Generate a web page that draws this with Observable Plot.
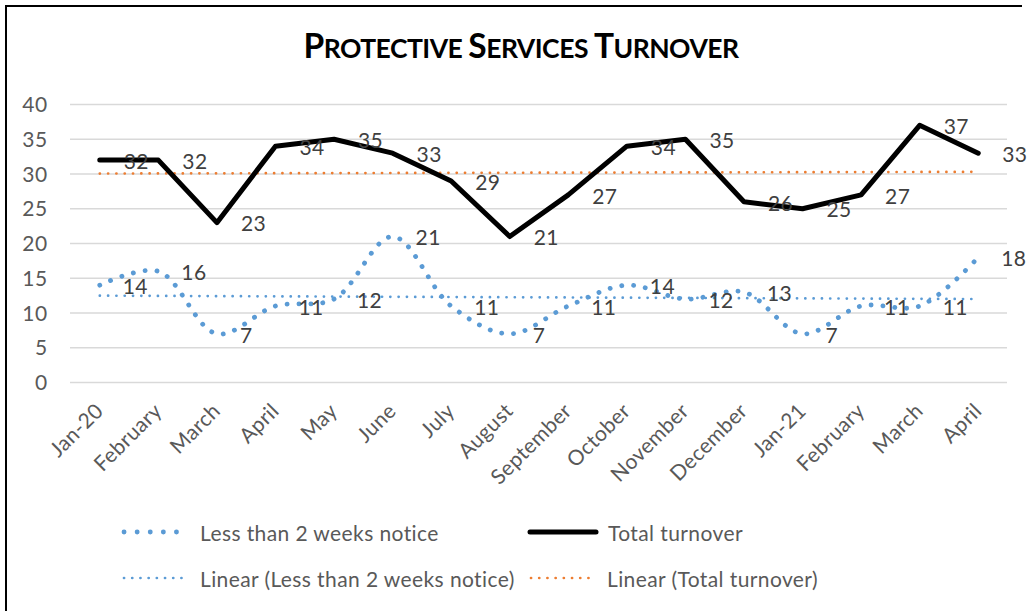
<!DOCTYPE html>
<html>
<head>
<meta charset="utf-8">
<script src="https://cdn.jsdelivr.net/npm/d3@7"></script>
<script src="https://cdn.jsdelivr.net/npm/@observablehq/plot@0.6"></script>
<style>
  html, body { margin: 0; padding: 0; background: #fff; }
  body { width: 1030px; height: 611px; overflow: hidden; position: relative; font-family: Lato, "Open Sans", sans-serif; }
  #frame { position: absolute; left: 5px; top: 5px; width: 1015px; height: 700px; border-left: 2px solid #000; border-top: 2px solid #000; }
  #title { position: absolute; left: 0; top: 25px; width: 1042px; text-align: center; font-weight: 700; color: #000; line-height: 40px; white-space: nowrap; letter-spacing: -0.5px; }
  #title .big { font-size: 33.5px; }
  #title .small { font-size: 26.5px; }
  #chart { position: absolute; left: 0; top: 88px; }
  .legend-row { position: absolute; left: 0; height: 24px; display: flex; align-items: center; font-size: 21px; letter-spacing: 0.4px; color: #595959; white-space: nowrap; }
  .legend-row svg { margin-right: 8px; }
</style>
</head>
<body>
<div id="frame"></div>
<div id="title"></div>
<div id="chart"></div>
<div id="legend"></div>
<script>
// ---- data ----
const titleText = "Protective Services Turnover";
const months = ["Jan-20", "February", "March", "April", "May", "June", "July", "August", "September", "October", "November", "December", "Jan-21", "February", "March", "April"];
const lessNotice = [14, 16, 7, 11, 12, 21, 11, 7, 11, 14, 12, 13, 7, 11, 11, 18];
const totalTurnover = [32, 32, 23, 34, 35, 33, 29, 21, 27, 34, 35, 26, 25, 27, 37, 33];
const yTicks = [0, 5, 10, 15, 20, 25, 30, 35, 40];
const seriesNames = ["Less than 2 weeks notice", "Total turnover", "Linear (Less than 2 weeks notice)", "Linear (Total turnover)"];
const colors = { less: "#5B9BD5", total: "#000000", lessTrend: "#5B9BD5", totalTrend: "#ED7D31" };

// ---- title (small caps rendered manually) ----
const titleEl = document.getElementById("title");
titleEl.innerHTML = titleText.split(" ").map(w =>
  `<span class="big">${w[0].toUpperCase()}</span><span class="small">${w.slice(1).toUpperCase()}</span>`
).join('<span class="small"> </span>');

// ---- chart ----
const idx = d3.range(months.length);
const less = idx.map(i => ({ i, v: lessNotice[i] }));
const total = idx.map(i => ({ i, v: totalTurnover[i] }));

const chart = Plot.plot({
  width: 1030,
  height: 402,
  marginLeft: 70,
  marginRight: 23,
  marginTop: 16,
  marginBottom: 108,
  style: { fontFamily: "Lato, 'Open Sans', sans-serif", fontSize: "21px", letterSpacing: "0.4px", color: "#595959", background: "transparent", overflow: "visible" },
  x: { domain: [-0.5, months.length - 0.5] },
  y: { domain: [0, 40], axis: null },
  marks: [
    Plot.gridY(yTicks, { stroke: "#d9d9d9", strokeOpacity: 1, strokeWidth: 1.5 }),
    Plot.text(yTicks, { y: d => d, text: d => String(d), frameAnchor: "left", textAnchor: "end", dx: -23, dy: 1, fill: "#595959", fontSize: 21 }),
    Plot.axisX(idx, { tickSize: 0, tickPadding: 25, tickRotate: -45, tickFormat: i => months[i], fill: "#595959", fontSize: 21, label: null }),
    Plot.linearRegressionY(less, { x: "i", y: "v", ci: 0, stroke: colors.lessTrend, strokeWidth: 2.7, strokeDasharray: "0.1 8.2", strokeLinecap: "round" }),
    Plot.linearRegressionY(total, { x: "i", y: "v", ci: 0, stroke: colors.totalTrend, strokeWidth: 2.7, strokeDasharray: "0.1 8.2", strokeLinecap: "round" }),
    Plot.line(less, { x: "i", y: "v", curve: "catmull-rom", stroke: colors.less, strokeWidth: 4.8, strokeDasharray: "0.1 11.8", strokeLinecap: "round" }),
    Plot.line(total, { x: "i", y: "v", stroke: colors.total, strokeWidth: 5, strokeLinejoin: "round", strokeLinecap: "round" }),
    Plot.text(total, { x: "i", y: "v", text: d => String(d.v), dx: 24, dy: 2, textAnchor: "start", fill: "#404040", fontSize: 21 }),
    Plot.text(less, { x: "i", y: "v", text: d => String(d.v), dx: 23, dy: 2, textAnchor: "start", fill: "#404040", fontSize: 21 })
  ]
});
document.getElementById("chart").appendChild(chart);

// ---- legend ----
const legend = document.getElementById("legend");
const swatch = (kind) => {
  if (kind === "less") return `<svg width="72" height="20"><line x1="4" y1="10" x2="69" y2="10" stroke="${colors.less}" stroke-width="4.8" stroke-dasharray="0.1 13" stroke-linecap="round"/></svg>`;
  if (kind === "total") return `<svg width="74" height="20"><line x1="4" y1="10" x2="70" y2="10" stroke="${colors.total}" stroke-width="5" stroke-linecap="round"/></svg>`;
  const c = kind === "lessTrend" ? colors.lessTrend : colors.totalTrend;
  return `<svg width="72" height="20"><line x1="4" y1="10" x2="69" y2="10" stroke="${c}" stroke-width="2.7" stroke-dasharray="0.1 8.1" stroke-linecap="round"/></svg>`;
};
const items = [
  { kind: "less", label: seriesNames[0], left: 120, top: 520 },
  { kind: "total", label: seriesNames[1], left: 526, top: 520 },
  { kind: "lessTrend", label: seriesNames[2], left: 120, top: 566 },
  { kind: "totalTrend", label: seriesNames[3], left: 527, top: 566 }
];
legend.innerHTML = items.map(it =>
  `<div class="legend-row" style="left:${it.left}px;top:${it.top}px">${swatch(it.kind)}<span>${it.label}</span></div>`
).join("");
</script>
</body>
</html>
